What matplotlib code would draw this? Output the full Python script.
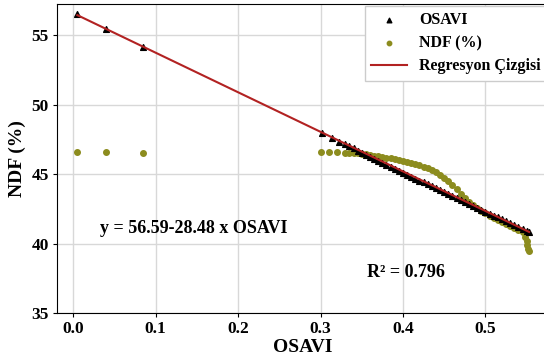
import numpy as np
import matplotlib
matplotlib.use('Agg')
import matplotlib.pyplot as plt

plt.rcParams['font.family'] = ['Liberation Serif', 'DejaVu Serif']
plt.rcParams['font.weight'] = 'bold'

# OSAVI-based predicted values (triangles)
tri_x = [0.005, 0.04, 0.085, 0.302, 0.314, 0.322, 0.330,
         0.335, 0.34, 0.345, 0.35, 0.355, 0.36, 0.365, 0.37, 0.375, 0.38,
         0.385, 0.39, 0.395, 0.40, 0.405, 0.41, 0.415, 0.42, 0.425, 0.43,
         0.435, 0.44, 0.445, 0.45, 0.455, 0.46, 0.465, 0.47, 0.475, 0.48,
         0.485, 0.49, 0.495, 0.50, 0.505, 0.51, 0.515, 0.52, 0.525, 0.53,
         0.535, 0.54, 0.545, 0.55, 0.553]
tri_y = [56.5, 55.45, 54.15, 47.95, 47.6, 47.35, 47.15,
         47.0, 46.85, 46.7, 46.55, 46.4, 46.25, 46.1, 45.95, 45.8, 45.66,
         45.52, 45.38, 45.24, 45.1, 44.96, 44.82, 44.68, 44.54, 44.4, 44.26,
         44.12, 43.98, 43.84, 43.7, 43.56, 43.42, 43.28, 43.14, 43.0, 42.86,
         42.72, 42.58, 42.44, 42.3, 42.16, 42.02, 41.88, 41.74, 41.6, 41.46,
         41.32, 41.18, 41.04, 40.9, 40.82]

# measured NDF (%)
ndf_x = [0.005, 0.04, 0.085, 0.300, 0.310, 0.320, 0.330,
         0.335, 0.34, 0.345, 0.35, 0.355, 0.36, 0.365, 0.37, 0.375, 0.38,
         0.385, 0.39, 0.395, 0.40, 0.405, 0.41, 0.415, 0.42, 0.425, 0.43,
         0.435, 0.44, 0.445, 0.45, 0.455, 0.46, 0.465, 0.47, 0.475, 0.48,
         0.485, 0.49, 0.495, 0.50, 0.505, 0.51, 0.515, 0.52, 0.525, 0.53,
         0.535, 0.54, 0.545, 0.548, 0.55, 0.551, 0.552, 0.553]
ndf_y = [46.6, 46.6, 46.55, 46.6, 46.6, 46.6, 46.55,
         46.55, 46.55, 46.5, 46.45, 46.42, 46.38, 46.33, 46.28, 46.23, 46.18,
         46.13, 46.08, 46.02, 45.96, 45.9, 45.83, 45.75, 45.65, 45.55, 45.45,
         45.33, 45.15, 44.95, 44.75, 44.5, 44.2, 43.9, 43.55, 43.25, 43.0,
         42.75, 42.55, 42.35, 42.2, 42.0, 41.85, 41.7, 41.55, 41.4, 41.3,
         41.15, 41.0, 40.8, 40.5, 40.2, 39.9, 39.6, 39.45]

# regression line end points
reg_x = [0.005, 0.553]
reg_y = [56.45, 40.84]

fig = plt.figure(figsize=(5.44, 3.64), dpi=100)
ax = fig.add_axes([0.105, 0.140, 0.904, 0.849])

ax.scatter(tri_x, tri_y, marker='^', s=17, color='black', label='OSAVI', zorder=3)
ax.scatter(ndf_x, ndf_y, marker='o', s=16, color='#8c8c1e', label='NDF (%)', zorder=2)
ax.plot(reg_x, reg_y, color='#b22222', lw=1.5, label='Regresyon Çizgisi', zorder=4)

ax.text(0.033, 41.1, 'y = 56.59-28.48 x OSAVI', fontsize=13, fontweight='bold', va='center')
ax.text(0.356, 37.95, 'R² = 0.796', fontsize=13, fontweight='bold', va='center')

ax.set_xlim(-0.0195, 0.577)
ax.set_ylim(35, 57.25)
ax.set_xticks([0.0, 0.1, 0.2, 0.3, 0.4, 0.5])
ax.set_yticks([35, 40, 45, 50, 55])
ax.tick_params(labelsize=12.5, length=3, pad=3)
ax.grid(True, color='#d8d8d8', lw=1)
ax.set_axisbelow(True)
ax.set_xlabel('OSAVI', fontsize=14, fontweight='bold', labelpad=1)
ax.set_ylabel('NDF (%)', fontsize=14, fontweight='bold', labelpad=4)

leg = ax.legend(loc='upper right', fontsize=11.5, fancybox=False, framealpha=1,
                edgecolor='#cccccc', borderaxespad=0.1, handlelength=2.2,
                markerscale=0.8, labelspacing=0.45)

fig.savefig('out.png', dpi=100)
